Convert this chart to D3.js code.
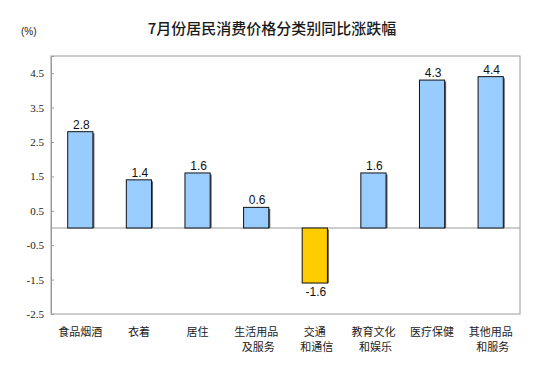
<!DOCTYPE html>
<html><head><meta charset="utf-8">
<script src="https://cdn.jsdelivr.net/npm/d3@7"></script>
<style>body{margin:0;background:#fff}</style>
</head><body>
<svg id="c" width="543" height="378"></svg>
<script>
const categories = ["食品烟酒","衣着","居住","生活用品\n及服务","交通\n和通信","教育文化\n和娱乐","医疗保健","其他用品\n和服务"];
const values = [2.8,1.4,1.6,0.6,-1.6,1.6,4.3,4.4];
const tickValues = [4.5,3.5,2.5,1.5,0.5,-0.5,-1.5,-2.5];
const tickLabels = ["4.5","3.5","2.5","1.5","0.5","-0.5","-1.5","-2.5"];
const title = "7月份居民消费价格分类别同比涨跌幅";
const unit = "(%)";

const svg = d3.select("#c");
const L=51, R=520, T=56, B=314;
const x = d3.scaleBand().domain(categories).range([L,R]).paddingInner(0.57).paddingOuter(0.285);
const y = d3.scaleLinear().domain([-2.5,5.0]).range([B,T]);
const cjk = "'Noto Sans CJK SC', sans-serif";

svg.append("text").attr("x",272).attr("y",34).attr("text-anchor","middle")
  .attr("font-family",cjk).attr("font-size",15).attr("font-weight",500).attr("fill","#1a1a1a").text(title);
svg.append("text").attr("x",21).attr("y",35).attr("font-family","'Liberation Sans', Arial, sans-serif")
  .attr("font-size",10).attr("fill","#222").text(unit);

// frame
svg.append("rect").attr("x",L).attr("y",T).attr("width",R-L).attr("height",B-T)
  .attr("fill","none").attr("stroke","#9a9a9a").attr("stroke-width",1);

// y axis
const yAxis = d3.axisRight(y).tickValues(tickValues).tickSize(3).tickFormat((d,i)=>"");
const ga = svg.append("g").attr("transform",`translate(${L},0)`).call(yAxis);
ga.select(".domain").attr("stroke","#9a9a9a");
ga.selectAll(".tick line").attr("stroke","#9a9a9a");
svg.append("g").selectAll("text").data(tickValues).join("text")
  .attr("x",L-7).attr("y",d=>y(d)+4).attr("text-anchor","end")
  .attr("font-family","'Liberation Serif', 'Times New Roman', serif").attr("font-size",11).attr("fill","#222")
  .text((d,i)=>tickLabels[i]);

// zero line
svg.append("line").attr("x1",L).attr("x2",R).attr("y1",y(0)).attr("y2",y(0)).attr("stroke","#9a9a9a");

// bars
const g = svg.append("g");
const data = categories.map((c,i)=>({c,v:values[i]}));
g.selectAll("rect.sh").data(data).join("rect").attr("class","sh")
  .attr("x",d=>x(d.c)+1.5).attr("y",d=>Math.min(y(d.v),y(0))+1.5)
  .attr("width",x.bandwidth()).attr("height",d=>Math.abs(y(d.v)-y(0))-1.5).attr("fill","#666");
g.selectAll("rect.bar").data(data).join("rect").attr("class","bar")
  .attr("x",d=>x(d.c)).attr("y",d=>Math.min(y(d.v),y(0)))
  .attr("width",x.bandwidth()).attr("height",d=>Math.abs(y(d.v)-y(0)))
  .attr("fill",d=>d.v<0?"#FFCC00":"#99CCFF").attr("stroke","#111").attr("stroke-width",1);

// value labels
g.selectAll("text.val").data(data).join("text").attr("class","val")
  .attr("x",d=>x(d.c)+x.bandwidth()/2+1)
  .attr("y",d=>d.v<0? y(d.v)+13 : y(d.v)-3)
  .attr("text-anchor","middle").attr("font-family","'Liberation Sans', Arial, sans-serif")
  .attr("font-size",12).attr("fill","#111").text(d=>d.v.toFixed(1));

// category labels
const cl = svg.append("g").selectAll("text").data(categories).join("text")
  .attr("text-anchor","middle").attr("font-family",cjk).attr("font-size",11).attr("fill","#222");
cl.each(function(d){
  const t=d3.select(this); const cx=x(d)+x.bandwidth()/2;
  d.split("\n").forEach((s,i)=>t.append("tspan").attr("x",cx + (i>0?2:0)).attr("y",336+i*15).text(s));
});
</script>
</body></html>
